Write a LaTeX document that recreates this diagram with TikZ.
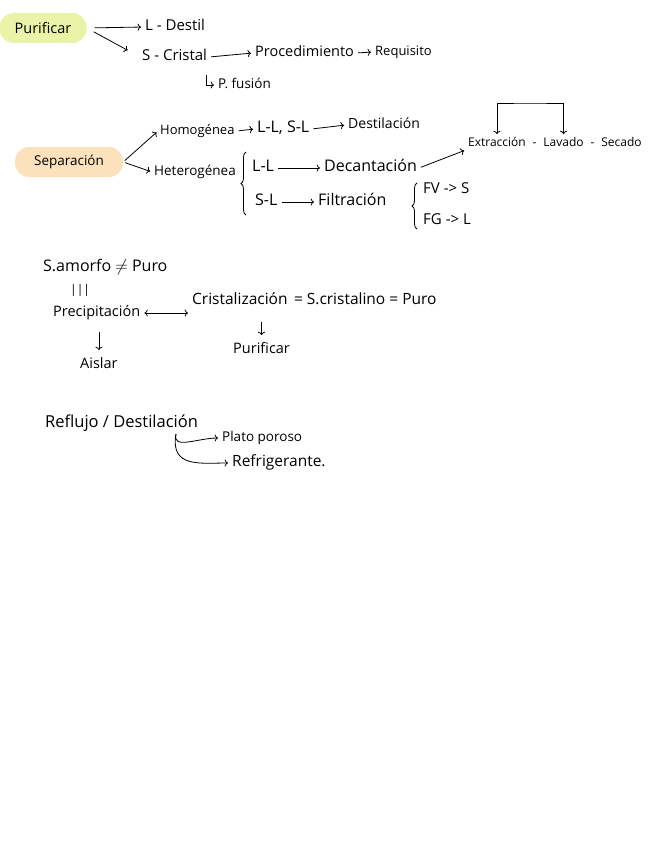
\documentclass[tikz,border=0pt]{standalone}
\usepackage{fontspec}
\setmainfont{Open Sans}
\usepackage{xcolor}
\usetikzlibrary{positioning,arrows.meta,calc,decorations.pathreplacing}
\definecolor{hlgreen}{HTML}{E9F4A8}
\definecolor{hlpeach}{HTML}{FBE2BC}

\begin{document}
\begin{tikzpicture}[
    x=1pt, y=-1pt,
    font=\fontsize{14}{16}\selectfont,
    fs/.style={font=\fontsize{#1}{#1}\selectfont},
    txt/.style={anchor=west, inner sep=2pt, text height=1.5ex, text depth=.25ex},
    tag/.style={rounded corners=14pt, minimum height=30pt},
    lead/.style={->, line width=0.8pt, shorten <=2pt, shorten >=2pt},
    curly/.style={decorate, decoration={brace, amplitude=5pt}, line width=0.8pt}
]
\useasboundingbox (0,0) rectangle (656,848);

% ---- Purificar ----
\node[tag, fs=14.5, fill=hlgreen, minimum width=87pt] (pur) at (43,28) {Purificar};
\node[txt, fs=15]   (ldes) at (143,27) {L - Destil};
\node[txt, fs=15]   (scri) at (140,57) {S - Cristal};
\node[txt, fs=14.5] (proc) at (253,53) {Procedimiento};
\node[txt, fs=13]   (req)  at (373,52) {Requisito};
\node[txt, fs=13.5] (pfus) at (216,85) {P. fusión};

\draw[lead, shorten <=8pt] (pur.east) -- (ldes.west);
\draw[lead, shorten <=8pt, shorten >=14pt] (pur.east) -- (scri.west);
\draw[lead] (scri.east) -- (proc.west);
\draw[lead] (proc.east) -- (req.west);
\draw[lead, shorten <=0pt] ($(pfus.west)+(-10,-10)$) |- (pfus.west);

% ---- Separacion ----
\node[tag, fs=13.5, fill=hlpeach, minimum width=108pt] (sep) at (69,162) {Separación};
\node[txt, fs=13]   (hom)  at (158,131) {Homogénea};
\node[txt, fs=16]   (llsl) at (255,129) {L-L, S-L};
\node[txt, fs=14]   (des)  at (346,125) {Destilación};
\node[txt, fs=13.5] (het)  at (152,172) {Heterogénea};
\node[txt, fs=16]   (hll)  at (250,168) {L-L};
\node[txt, fs=16]   (dec)  at (322,168) {Decantación};
\node[txt, fs=16]   (hsl)  at (253,202) {S-L};
\node[txt, fs=16]   (fil)  at (316,202) {Filtración};
\node[txt, fs=15]   (fv)   at (421,190) {FV -> S};
\node[txt, fs=15]   (fg)   at (421,221) {FG -> L};

\node[txt, fs=12] (ext) at (466,143) {Extracción};
\node[txt, fs=12, right=2.5pt of ext] (d1) {-};
\node[txt, fs=12, right=2.5pt of d1] (lav) {Lavado};
\node[txt, fs=12, right=2.5pt of lav] (d2) {-};
\node[txt, fs=12, right=2.5pt of d2] (sec) {Secado};
\coordinate (loop) at (530,103);

\draw[lead] (sep.east) -- (hom.west);
\draw[lead] (sep.east) -- (het.west);
\draw[lead] (hom.east) -- (llsl.west);
\draw[lead] (llsl.east) -- (des.west);
\draw[curly] (246,215) -- (246,152);
\draw[lead] (hll.east) -- (dec.west);
\draw[lead] (dec.east) -- (ext.south west);
\draw[lead] (hsl.east) -- (fil.west);
\draw[curly] (417,229) -- (417,183);
\draw[lead, <->] (ext.north) |- (loop) -| (lav.north);

% ---- amorfo / cristalino ----
\node[txt, fs=16]   (amo)  at (41,268) {S.amorfo $\neq$ Puro};
\node[txt, fs=12]   (eqv)  at (68,290) {|||};
\node[txt, fs=14.5] (prec) at (51,313) {Precipitación};
\node[txt, fs=15.5] (cris) at (190,301) {Cristalización};
\node[txt, fs=15.5, right=2pt of cris] (cri2) {= S.cristalino = Puro};
\node[txt, fs=14.5] (ais)  at (78,365) {Aislar};
\node[txt, fs=14.5] (pur2) at (231,350) {Purificar};

\draw[lead, <->] (prec.east) -- (prec.east -| cris.west);
\draw[lead, shorten <=12pt, shorten >=8pt] (ais.north |- prec.south) -- (ais.north);
\draw[lead, shorten <=14pt, shorten >=8pt] (pur2.north |- cris.south) -- (pur2.north);

% ---- reflujo ----
\node[txt, fs=16.5] (refl)  at (43,424) {Reflujo / Destilación};
\node[txt, fs=13.5] (plato) at (220,438) {Plato poroso};
\node[txt, fs=15.5] (refr)  at (230,463) {Refrigerante.};
\coordinate (fork) at (176,434);

\draw[lead, shorten <=0pt] (fork) .. controls +(-4,16) and +(-22,0) .. (plato.west);
\draw[lead, shorten <=0pt] (fork) .. controls +(-6,34) and +(-30,0) .. (refr.west);

\end{tikzpicture}
\end{document}
